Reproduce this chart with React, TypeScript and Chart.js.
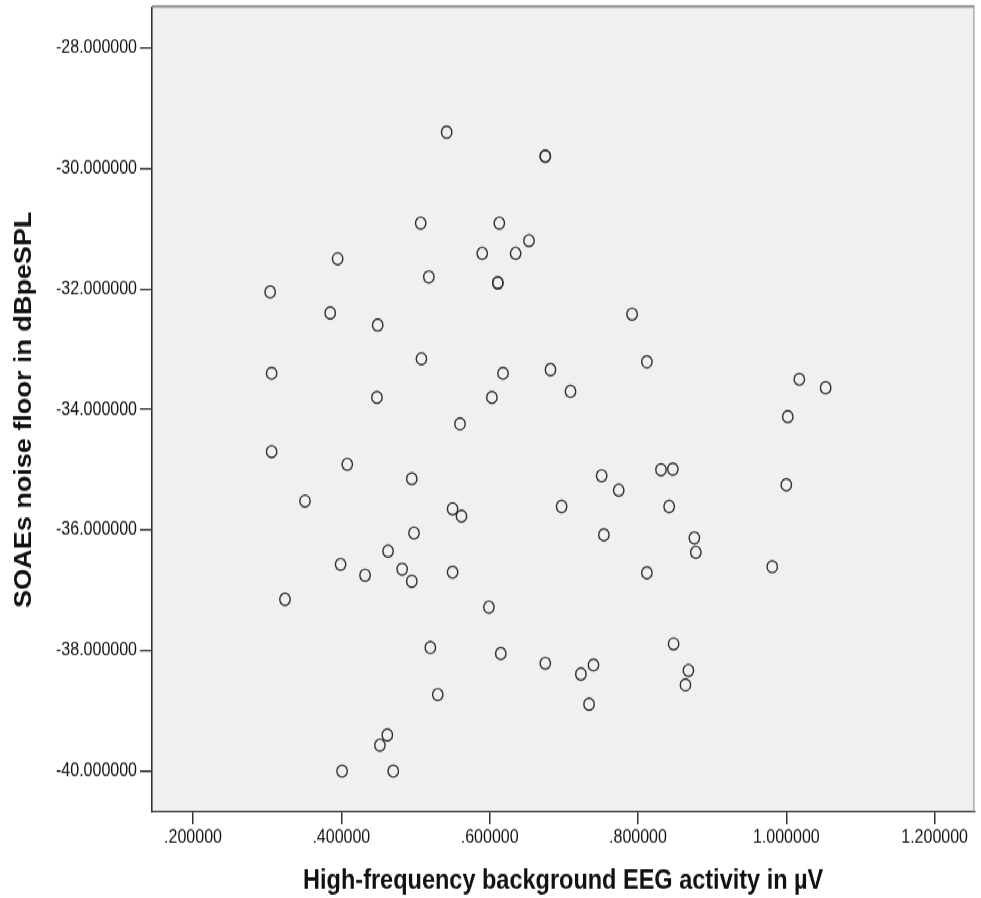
import React, { useEffect, useRef } from "react";
import { Chart, registerables } from "chart.js";

Chart.register(...registerables);

// ---- Data ----
const EEG_UV: number[] = [
  0.304, 0.306, 0.306, 0.324, 0.351,
  0.542, 0.675, 0.675, 0.507, 0.613, 0.653, 0.590, 0.635, 0.395, 0.518, 0.611, 0.611,
  0.385, 0.449, 0.792, 0.508, 0.618, 0.682, 0.812, 0.448, 0.603, 0.709, 0.560,
  0.408, 0.495, 0.550, 0.562, 0.697, 0.751, 0.774, 0.831, 0.847, 0.842, 0.754,
  0.498, 0.463, 0.399, 0.432, 0.482, 0.495, 0.550, 0.599, 0.812, 0.848, 0.520,
  0.615, 0.675, 0.723, 0.740, 0.734, 0.530, 0.462, 0.452, 0.401, 0.470,
  1.0175, 1.053, 1.002, 1.000, 0.876, 0.878, 0.981, 0.868, 0.864,
];

const NOISE_FLOOR_DB: number[] = [
  -32.05, -33.40, -34.70, -37.15, -35.52,
  -29.40, -29.80, -29.80, -30.91, -30.91, -31.20, -31.41, -31.41, -31.50, -31.80, -31.90, -31.90,
  -32.40, -32.60, -32.42, -33.16, -33.40, -33.34, -33.21, -33.80, -33.80, -33.70, -34.24,
  -34.91, -35.15, -35.65, -35.77, -35.61, -35.10, -35.34, -35.00, -34.99, -35.61, -36.08,
  -36.05, -36.35, -36.57, -36.75, -36.65, -36.85, -36.70, -37.28, -36.71, -37.89, -37.95,
  -38.05, -38.21, -38.39, -38.24, -38.89, -38.73, -39.40, -39.57, -40.00, -40.00,
  -33.50, -33.64, -34.12, -35.25, -36.13, -36.37, -36.61, -38.33, -38.57,
];

const X_TICKS: number[] = [0.2, 0.4, 0.6, 0.8, 1.0, 1.2];
const Y_TICKS: number[] = [-28, -30, -32, -34, -36, -38, -40];
const X_MIN = 0.1447;
const X_MAX = 1.2536;
const Y_MIN = -40.674;
const Y_MAX = -27.333;

const X_TITLE = "High-frequency background EEG activity in µV";
const Y_TITLE = "SOAEs noise floor in dBpeSPL";

// ---- Layout ----
const W = 981;
const H = 898;
const IH = 781; // internal height, stretched vertically to H
const PLOT_LEFT = 152;
const PLOT_TOP = 5.2;
const PLOT_BOTTOM = 706;
const FONT = "'Liberation Sans', Arial, Helvetica, sans-serif";

const fmtX = (v: number) => {
  const s = Number(v).toFixed(6);
  return s.startsWith("0.") ? s.slice(1) : s;
};
const fmtY = (v: number) => Number(v).toFixed(6);

const zeroPad = (s: any) => {
  s.paddingTop = 0;
  s.paddingBottom = 0;
  s.paddingLeft = 0;
  s.paddingRight = 0;
};

const framePlugin = {
  id: "spssFrame",
  beforeDraw(chart: any) {
    const { ctx, chartArea } = chart;
    const { left, top, right, bottom } = chartArea;
    ctx.save();
    ctx.fillStyle = "#ffffff";
    ctx.fillRect(0, 0, chart.width, chart.height);
    ctx.fillStyle = "#F0F0F0";
    ctx.fillRect(left, top, right - left, bottom - top);
    ctx.restore();
  },
  afterDatasetsDraw(chart: any) {
    const { ctx, chartArea } = chart;
    const { left, top, right, bottom } = chartArea;
    ctx.save();
    ctx.strokeStyle = "#8a8a8a";
    ctx.lineWidth = 2.2;
    ctx.beginPath();
    ctx.moveTo(left, top - 1);
    ctx.lineTo(right, top - 1);
    ctx.stroke();
    ctx.strokeStyle = "#9a9a9a";
    ctx.lineWidth = 1.2;
    ctx.beginPath();
    ctx.moveTo(right - 0.5, top);
    ctx.lineTo(right - 0.5, bottom);
    ctx.stroke();
    ctx.restore();
  },
};

export default function App() {
  const canvasRef = useRef<HTMLCanvasElement | null>(null);

  useEffect(() => {
    if (!canvasRef.current) return;
    const points = EEG_UV.map((x, i) => ({ x, y: NOISE_FLOOR_DB[i] }));
    const chart = new Chart(canvasRef.current, {
      type: "scatter",
      data: {
        datasets: [
          {
            data: points,
            pointStyle: "circle",
            pointRadius: 5.2,
            pointBorderWidth: 1.4,
            pointBorderColor: "#2e2e2e",
            pointBackgroundColor: "rgba(0,0,0,0)",
            showLine: false,
          },
        ],
      },
      options: {
        animation: false,
        responsive: true,
        maintainAspectRatio: false,
        layout: { padding: { left: 0, top: PLOT_TOP, right: 1, bottom: 0 } },
        plugins: {
          legend: { display: false },
          tooltip: { enabled: false },
        },
        scales: {
          x: {
            type: "linear",
            position: "bottom",
            min: X_MIN,
            max: X_MAX,
            afterBuildTicks: (s: any) => {
              s.ticks = X_TICKS.map((value) => ({ value }));
            },
            afterFit: (s: any) => {
              s.height = IH - PLOT_BOTTOM;
              zeroPad(s);
            },
            ticks: {
              callback: (v: any) => fmtX(v),
              font: { family: FONT, size: 16 },
              color: "#111111",
              padding: 2,
              autoSkip: false,
              maxRotation: 0,
            },
            grid: {
              drawOnChartArea: false,
              drawTicks: true,
              tickLength: 11,
              color: "#333333",
              lineWidth: 1.5,
            },
            border: { display: true, color: "#333333", width: 1.6 },
            title: {
              display: true,
              text: X_TITLE,
              font: { family: FONT, size: 23.5, weight: "bold" },
              color: "#111111",
              padding: { top: 0, bottom: 0 },
            },
          },
          y: {
            type: "linear",
            position: "left",
            min: Y_MIN,
            max: Y_MAX,
            afterBuildTicks: (s: any) => {
              s.ticks = Y_TICKS.map((value) => ({ value }));
            },
            afterFit: (s: any) => {
              s.width = PLOT_LEFT;
              zeroPad(s);
            },
            ticks: {
              callback: (v: any) => fmtY(v),
              font: { family: FONT, size: 16 },
              color: "#111111",
              padding: 3,
              autoSkip: false,
            },
            grid: {
              drawOnChartArea: false,
              drawTicks: true,
              tickLength: 12,
              color: "#333333",
              lineWidth: 1.5,
            },
            border: { display: true, color: "#333333", width: 1.6 },
            title: {
              display: true,
              text: Y_TITLE,
              font: { family: FONT, size: 23.5, weight: "bold" },
              color: "#111111",
              padding: { top: 10, bottom: 0 },
            },
          },
        },
      },
      plugins: [framePlugin],
    } as any);
    return () => chart.destroy();
  }, []);

  return (
    <div
      style={{
        position: "absolute",
        left: 0,
        top: 0,
        width: W,
        height: IH,
        transform: `scaleY(${H / IH})`,
        transformOrigin: "0 0",
        background: "#ffffff",
      }}
    >
      <canvas ref={canvasRef} />
    </div>
  );
}
